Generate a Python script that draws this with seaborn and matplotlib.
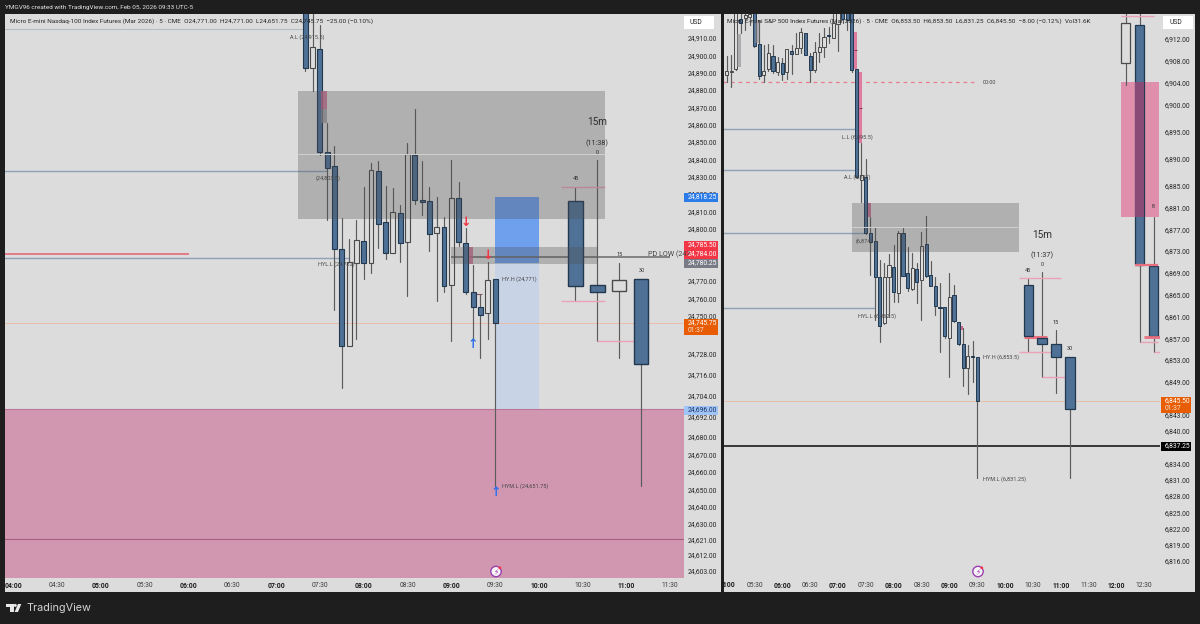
#!/usr/bin/env python3
"""
Two TradingView style futures panels (5 min candles, 15m recap, zones).
"""

from __future__ import annotations

import matplotlib

matplotlib.use("Agg")
import matplotlib.pyplot as plt
import pandas as pd
import seaborn as sns
from matplotlib.patches import Circle, Polygon, Rectangle

# Nasdaq panel, 5 min bars
nq_times = ["07:20", "07:25", "07:30", "07:35", "07:40", "07:45", "07:50", "07:55", "08:00",
            "08:05", "08:10", "08:15", "08:20", "08:25", "08:30", "08:35", "08:40", "08:45",
            "08:50", "08:55", "09:00", "09:05", "09:10", "09:15", "09:20", "09:25", "09:30"]
nq_kind = list("bwbbbbwwbwbbwbwbbbwbwbbbbwb")
nq_top = [24929.0, 24905.0, 24903.7, 24844.1, 24836.2, 24788.2, 24780.9, 24793.6, 24793.0,
          24833.9, 24833.5, 24803.9, 24809.7, 24809.3, 24843.1, 24842.6, 24816.6, 24816.0,
          24800.9, 24801.2, 24817.6, 24817.6, 24791.7, 24763.8, 24755.1, 24770.5, 24771.0]
nq_bot = [24892.9, 24892.5, 24844.5, 24835.0, 24788.6, 24732.6, 24732.5, 24780.5, 24780.1,
          24780.1, 24802.8, 24786.2, 24786.2, 24792.0, 24792.2, 24816.6, 24815.3, 24797.2,
          24797.8, 24767.2, 24767.5, 24792.4, 24763.8, 24755.1, 24750.5, 24751.7, 24745.75]
nq_high = [24932.0, 24929.0, 24917.5, 24861.0, 24847.7, 24806.0, 24794.0, 24805.0, 24824.3,
           24837.8, 24839.3, 24824.9, 24823.4, 24813.7, 24849.3, 24868.9, 24839.3, 24824.3,
           24818.5, 24807.0, 24839.7, 24826.8, 24800.3, 24779.2, 24762.3, 24781.0, 24771.0]
nq_low = [24891.2, 24879.6, 24842.6, 24805.0, 24753.2, 24708.0, 24732.5, 24736.3, 24770.9,
          24774.4, 24788.8, 24782.4, 24786.2, 24781.0, 24761.5, 24814.3, 24808.0, 24787.4,
          24758.6, 24763.8, 24735.5, 24790.3, 24762.3, 24736.3, 24725.4, 24736.3, 24651.75]

# Nasdaq panel, 15m recap
nq15_times = ["10:25", "10:40", "10:55", "11:10"]
nq15_kind = list("bbwb")
nq15_top = [24816.0, 24767.6, 24770.5, 24771.0]
nq15_bot = [24767.2, 24763.8, 24764.0, 24722.0]
nq15_high = [24824.3, 24839.7, 24780.5, 24771.0]
nq15_low = [24758.4, 24735.5, 24725.6, 24651.75]

nq_ticks = [24910, 24900, 24890, 24880, 24870, 24860, 24850, 24840, 24830, 24820, 24810, 24800,
            24770, 24760, 24750, 24728, 24716, 24704, 24692, 24680, 24670, 24660, 24650, 24640,
            24630, 24621, 24612, 24603]
nq_time_ticks = ["04:00", "04:30", "05:00", "05:30", "06:00", "06:30", "07:00", "07:30",
                 "08:00", "08:30", "09:00", "09:30", "10:00", "10:30", "11:00", "11:30"]

# S&P panel, 5 min bars
es_times = ["05:00", "05:05", "05:10", "05:15", "05:20", "05:25", "05:30", "05:35", "05:40",
            "05:45", "05:50", "05:55", "06:00", "06:05", "06:10", "06:15", "06:20", "06:25",
            "06:30", "06:35", "06:40", "06:45", "06:50", "06:55", "07:00", "07:05", "07:10",
            "07:15", "07:20", "07:25", "07:30", "07:35", "07:40", "07:45", "07:50", "07:55",
            "08:00", "08:05", "08:10", "08:15", "08:20", "08:25", "08:30", "08:35", "08:40",
            "08:45", "08:50", "08:55", "09:00", "09:05", "09:10", "09:15", "09:20", "09:25",
            "09:30"]
es_kind = list("wwwbwwbbwwbwbwbwwbbwwwbwwbbbbwbbbbwwbwbbwbwbbbbbwbbbwbb")
es_top = [6906.06, 6906.17, 6917.3, 6915.62, 6916.41, 6916.6, 6918.6, 6911.03, 6906.06,
          6909.37, 6908.88, 6907.83, 6907.64, 6910.11, 6909.79, 6910.4, 6913.34, 6913.05,
          6908.88, 6909.67, 6910.58, 6912.31, 6912.74, 6914.89, 6917.33, 6917.33, 6917.33,
          6917.7, 6906.43, 6887.0, 6886.58, 6876.29, 6874.93, 6868.2, 6868.2, 6870.46,
          6870.15, 6876.29, 6876.29, 6868.94, 6869.96, 6869.73, 6874.0, 6874.27, 6868.62,
          6866.66, 6862.69, 6862.69, 6864.63, 6864.95, 6860.04, 6855.94, 6853.79, 6853.79,
          6853.5]
es_bot = [6905.33, 6905.93, 6906.43, 6914.89, 6915.86, 6916.0, 6910.77, 6905.2, 6905.33,
          6906.43, 6906.06, 6905.99, 6905.57, 6905.93, 6909.3, 6909.3, 6910.4, 6909.11,
          6906.3, 6906.3, 6909.61, 6910.58, 6912.55, 6912.24, 6914.76, 6915.62, 6915.49,
          6906.3, 6886.58, 6886.08, 6876.29, 6874.74, 6868.31, 6859.3, 6859.75, 6868.2,
          6865.44, 6865.26, 6868.44, 6866.18, 6866.05, 6867.39, 6867.7, 6868.44, 6866.66,
          6862.98, 6862.5, 6857.41, 6857.0, 6860.22, 6855.94, 6851.47, 6851.47, 6853.5,
          6845.5]
es_high = [6908.88, 6909.06, 6918.2, 6917.3, 6917.3, 6917.7, 6919.2, 6915.49, 6910.9,
           6911.08, 6910.9, 6908.75, 6908.45, 6910.11, 6910.9, 6913.05, 6913.97, 6913.05,
           6909.43, 6911.5, 6913.05, 6913.97, 6914.26, 6916.6, 6918.2, 6918.2, 6918.2,
           6918.2, 6906.43, 6892.94, 6889.89, 6879.34, 6877.5, 6871.38, 6870.77, 6872.48,
           6874.14, 6876.77, 6877.21, 6873.83, 6872.6, 6870.88, 6876.58, 6879.47, 6871.25,
           6868.2, 6867.15, 6862.69, 6868.94, 6866.79, 6860.04, 6858.83, 6855.76, 6856.55,
           6853.5]
es_low = [6904.15, 6903.23, 6906.3, 6913.05, 6913.65, 6914.57, 6910.47, 6904.7, 6904.15,
          6906.17, 6905.7, 6905.33, 6904.46, 6904.7, 6905.57, 6909.3, 6909.37, 6909.11,
          6904.15, 6905.93, 6907.83, 6908.75, 6911.21, 6912.24, 6909.85, 6914.94, 6913.65,
          6906.0, 6886.45, 6882.1, 6876.16, 6868.62, 6860.35, 6856.36, 6859.62, 6860.96,
          6863.72, 6863.72, 6868.44, 6865.74, 6865.87, 6863.42, 6860.35, 6868.2, 6866.66,
          6861.27, 6854.53, 6857.04, 6849.93, 6860.04, 6855.76, 6848.22, 6846.75, 6849.01,
          6831.25]

# S&P panel, 15m recap and the wider bars on the far right
es15_times = ["10:25", "10:40", "10:55", "11:10", "12:10", "12:25", "12:40"]
es15_kind = list("bbbbwbb")
es15_top = [6866.73, 6857.0, 6855.94, 6853.5, 6914.89, 6914.57, 6870.28]
es15_bot = [6857.41, 6855.94, 6853.5, 6843.94, 6907.64, 6870.46, 6857.41]
es15_high = [6868.0, 6869.23, 6858.5, 6853.5, 6918.2, 6918.2, 6879.34]
es15_low = [6854.53, 6849.93, 6846.88, 6831.25, 6903.55, 6856.36, 6854.53]

es_ticks = [6912, 6908, 6904, 6900, 6895, 6890, 6885, 6881, 6877, 6873, 6869, 6865, 6861, 6857,
            6853, 6849, 6843, 6840, 6834, 6831, 6828, 6825, 6822, 6819, 6816]
es_time_ticks = ["05:30", "06:00", "06:30", "07:00", "07:30", "08:00", "08:30", "09:00", "09:30",
                 "10:00", "10:30", "11:00", "11:30", "12:00", "12:30"]

NQ_LAST = 24745.75
ES_LAST = 6845.5
ES_BLACK = 6837.25

BG = "#dcdcdc"
DARK = "#1e1e1e"
BLUE = "#4f7196"
EDGE = "#22384e"
WICK = "#5c5c5c"
PINK = "#e8a3b4"
LEVEL = "#8ea1b6"
FS = 4.9
FS_HEAD = 4.55


def to_min(t: str) -> int:
    h, m = t.split(":")
    return int(h) * 60 + int(m)


def draw_candles(ax, times, kinds, tops, bots, highs, lows, width, edge_w=0.8):
    x = [to_min(t) for t in times]
    rows = []
    for i, xi in enumerate(x):
        rows.append({"x": xi, "p": highs[i], "seg": f"{i}u"})
        rows.append({"x": xi, "p": tops[i], "seg": f"{i}u"})
        rows.append({"x": xi, "p": bots[i], "seg": f"{i}d"})
        rows.append({"x": xi, "p": lows[i], "seg": f"{i}d"})
    wicks = pd.DataFrame(rows)
    sns.lineplot(data=wicks, x="x", y="p", units="seg", estimator=None, sort=False,
                 color=WICK, lw=0.85, legend=False, ax=ax, zorder=3)
    for i, xi in enumerate(x):
        if kinds[i] == "b":
            fc, ec = BLUE, EDGE
        else:
            fc, ec = "none", "#4a4a4a"
        ax.bar(xi, tops[i] - bots[i], bottom=bots[i], width=width, facecolor=fc, edgecolor=ec,
               linewidth=edge_w, zorder=4)


def box(ax, t0, t1, p0, p1, color, alpha=1.0, z=1):
    ax.add_patch(Rectangle((t0, p0), t1 - t0, p1 - p0, facecolor=color, edgecolor="none",
                           alpha=alpha, zorder=z))


def setup_axis(ax, xlim, ylim, ticks, time_ticks, pad):
    ax.set_xlim(*xlim)
    ax.set_ylim(*ylim)
    ax.set_facecolor(BG)
    ax.set_xlabel("")
    ax.set_ylabel("")
    ax.yaxis.tick_right()
    ax.set_yticks(ticks)
    ax.set_yticklabels([f"{v:,.2f}" for v in ticks], fontsize=FS, color="#262626")
    ax.set_xticks([to_min(t) for t in time_ticks])
    ax.set_xticklabels(time_ticks, fontsize=FS, color="#3c3c3c")
    for lab, t in zip(ax.get_xticklabels(), time_ticks):
        if t.endswith(":00"):
            lab.set_fontweight("bold")
            lab.set_color("#1a1a1a")
    ax.tick_params(axis="y", length=0, pad=pad)
    ax.tick_params(axis="x", length=0, pad=2.6)
    for s in ax.spines.values():
        s.set_visible(False)


def main() -> None:
    sns.set_theme(style="white")
    plt.rcParams["font.family"] = ["Roboto", "DejaVu Sans"]

    fig = plt.figure(figsize=(12, 6.24), dpi=100, facecolor=DARK)

    # pixel helper layers, behind and above the two charts
    back = fig.add_axes([0, 0, 1, 1], zorder=-1)
    over = fig.add_axes([0, 0, 1, 1], zorder=5)
    for a in (back, over):
        a.set_xlim(0, 1200)
        a.set_ylim(624, 0)
        a.axis("off")
    back.add_patch(Rectangle((5, 14), 716, 578, facecolor=BG, edgecolor="none"))
    back.add_patch(Rectangle((724, 14), 471, 578, facecolor=BG, edgecolor="none"))

    ax1 = fig.add_axes([5 / 1200, 1 - 578 / 624, 679 / 1200, 564 / 624], zorder=1)
    ax2 = fig.add_axes([724 / 1200, 1 - 578 / 624, 436 / 1200, 564 / 624], zorder=1)

    # ---- left panel
    box(ax1, 200, 720, 24500, 24696, "#d197b0")
    ax1.hlines(24696, 200, 720, color="#b9769a", lw=0.8, zorder=2)
    ax1.hlines(24621.5, 200, 720, color="#a5607f", lw=0.8, zorder=2)
    box(ax1, 570, 600, 24696, 24780.25, "#c8d4e6")
    box(ax1, 570, 600, 24780.25, 24818.25, "#6fa0ee")
    ax1.hlines(24833.3, 200, 455, color=LEVEL, lw=1.0, zorder=2)
    ax1.hlines(24915.2, 200, 440, color="#b4bcc6", lw=0.8, zorder=2)
    ax1.hlines(24783.2, 200, 470, color=LEVEL, lw=1.0, zorder=2)
    ax1.hlines(24785.5, 200, 360, color="#e4606f", lw=1.1, zorder=2)
    ax1.hlines(NQ_LAST, 200, 720, color="#e9bda8", lw=0.7, zorder=2)
    ax1.hlines(24784, 540, 690, color="#6a6a6a", lw=1.1, zorder=2)
    draw_candles(ax1, nq_times, nq_kind, nq_top, nq_bot, nq_high, nq_low, 3.4)
    draw_candles(ax1, nq15_times, nq15_kind, nq15_top, nq15_bot, nq15_high, nq15_low, 10.0, 1.0)
    ax1.hlines([24824.3, 24758.4], 615, 645, color=PINK, lw=1.0, zorder=3)
    ax1.hlines(24735.5, 640, 670, color=PINK, lw=1.0, zorder=3)
    ax1.hlines(24762.3, 556, 561, color="#8a5468", lw=0.8, zorder=3)
    box(ax1, 451, 455, 24869, 24879.4, "#c9688f", 0.8, 5)
    box(ax1, 451, 455, 24861, 24869, "#8f8f94", 0.7, 5)
    box(ax1, 552, 555, 24779.7, 24789.7, "#c9688f", 0.8, 5)
    box(ax1, 435, 645, 24805.6, 24879.4, "#4d4d50", 0.3, 6)
    box(ax1, 540, 640, 24779.7, 24789.7, "#4d4d50", 0.3, 6)
    ax1.hlines(24843.1, 435, 645, color="#d2d2d2", lw=0.7, zorder=6)
    setup_axis(ax1, (234.3, 699.4), (24598.8, 24923.8), nq_ticks, nq_time_ticks, 2.9)

    # ---- right panel
    box(ax2, 725.3, 765.6, 6879.34, 6904.15, "#df8fab")
    ax2.hlines(6904.1, 280, 567, color="#e57f90", lw=0.9, ls=(0, (3, 3)), zorder=2)
    ax2.hlines(6895.46, 280, 440, color=LEVEL, lw=1.0, zorder=2)
    ax2.hlines(6887.9, 280, 440, color=LEVEL, lw=1.0, zorder=2)
    ax2.hlines(6876.3, 280, 450, color=LEVEL, lw=1.0, zorder=2)
    ax2.hlines(6862.5, 280, 460, color=LEVEL, lw=1.0, zorder=2)
    ax2.hlines(ES_BLACK, 280, 780, color="#2a2a2a", lw=1.3, zorder=2)
    ax2.hlines(ES_LAST, 280, 780, color="#e9bda8", lw=0.7, zorder=2)
    draw_candles(ax2, es_times, es_kind, es_top, es_bot, es_high, es_low, 3.4, 0.7)
    draw_candles(ax2, es15_times, es15_kind, es15_top, es15_bot, es15_high, es15_low, 10.0, 0.9)
    box(ax2, to_min("12:25") - 5, to_min("12:25") + 5, 6879.34, 6904.15, "#8a4a78", 1.0, 5)
    ax2.hlines(6868.0, 615, 660, color=PINK, lw=1.0, zorder=3)
    ax2.hlines(6854.53, 615, 655, color=PINK, lw=1.0, zorder=3)
    ax2.hlines(6849.93, 640, 670, color=PINK, lw=1.0, zorder=3)
    ax2.hlines(6857.3, 620, 645, color="#e8707f", lw=2.2, zorder=3)
    ax2.hlines(6916.2, 725, 760, color=PINK, lw=1.0, zorder=3)
    ax2.hlines(6870.46, 740, 765, color="#e8707f", lw=1.6, zorder=5)
    ax2.hlines(6857.2, 750, 767, color="#e8707f", lw=2.0, zorder=5)
    ax2.hlines(6856.36, 745, 765, color=PINK, lw=1.0, zorder=3)
    ax2.hlines(6854.53, 760, 767, color=PINK, lw=1.0, zorder=3)
    box(ax2, 437.2, 440.8, 6906.4, 6913.3, "#df7ba0", 1.0, 2)
    box(ax2, 442.6, 446.2, 6892.9, 6906.0, "#df7ba0", 1.0, 2)
    ax2.hlines(6909.9, 437.2, 440.8, color="#7a3a55", lw=0.7, zorder=5)
    ax2.hlines(6899.4, 442.6, 446.2, color="#7a3a55", lw=0.7, zorder=5)
    box(ax2, 452.3, 455.5, 6879.3, 6881.9, "#c9688f", 0.9, 5)
    box(ax2, 552.5, 555, 6858.5, 6859.2, "#c9688f", 1.0, 5)
    box(ax2, 311, 315.3, 6906.8, 6913, "#8f8f94", 0.6, 5)
    box(ax2, 331, 335, 6911.3, 6915.5, "#8f8f94", 0.6, 5)
    box(ax2, 435, 615, 6872.9, 6881.9, "#4d4d50", 0.3, 6)
    ax2.hlines(6877.4, 435, 615, color="#d2d2d2", lw=0.7, zorder=6)
    setup_axis(ax2, (297.2, 767), (6812.9, 6916.6), es_ticks, es_time_ticks, 3.6)

    # ---- header and footer text
    over.text(5, 7, "YMGV96 created with TradingView.com, Feb 05, 2026 09:33 UTC-5", fontsize=FS_HEAD,
              color="#e6e6e6", va="center")
    over.text(10, 21, "Micro E-mini Nasdaq-100 Index Futures (Mar 2026) · 5 · CME  O24,771.00  "
              "H24,771.00  L24,651.75  C24,745.75  −25.00 (−0.10%)", fontsize=FS_HEAD,
              color="#262626", va="center")
    over.text(727, 21, "Micro E-mini S&P 500 Index Futures (Mar 2026) · 5 · CME  O6,853.50  "
              "H6,853.50  L6,831.25  C6,845.50  −8.00 (−0.12%)  Vol31.6K", fontsize=FS_HEAD,
              color="#262626", va="center")
    over.text(729, 585, "5:00", fontsize=FS, weight="bold", color="#1a1a1a", ha="center", va="center")
    over.text(26, 608, "TradingView", fontsize=7.8, color="#d4d4d4", va="center", family="Inter")
    over.add_patch(Polygon([(6, 604), (13.5, 604), (13.5, 612), (10, 612), (10, 607), (6, 607)],
                           facecolor="#e8e8e8", edgecolor="none"))
    over.add_patch(Circle((15.3, 605.4), 1.5, facecolor="#e8e8e8", edgecolor="none"))
    over.add_patch(Polygon([(18, 604), (21.3, 604), (18, 612), (14.6, 612)],
                           facecolor="#e8e8e8", edgecolor="none"))

    # ---- small chart notes
    notes = [
        (290, 37, "A.L (24,915.5)", 4.0), (316, 178, "(24,803.5)", 4.0),
        (318, 264, "HYL.L (24,782)", 4.0), (502, 279, "HY.H (24,771)", 4.0),
        (502, 486, "HYM.L (24,651.75)", 4.0), (842, 137, "L.L (6,895.5)", 4.0),
        (844, 177, "A.L (6,887)", 4.0), (856, 241, "(6,874)", 4.0),
        (858, 316, "HYL.L (6,862.5)", 4.0), (983, 357, "HY.H (6,853.5)", 4.0),
        (983, 479, "HYM.L (6,831.25)", 4.0), (983, 82, "00:00", 4.0),
        (648, 254, "PD LOW (247", 5.2),
    ]
    for px, py, s, size in notes:
        over.text(px, py, s, fontsize=size, color="#454545", va="center")
    centered = [
        (597, 122, "15m", 7.2), (597, 143, "(11:38)", 5.2), (597, 152, "0", 4.0),
        (575.5, 178, "45", 4.0), (619.7, 255, "15", 4.0), (641.5, 271, "30", 4.0),
        (1042, 235, "15m", 7.2), (1042, 255, "(11:37)", 5.2), (1042, 265, "0", 4.0),
        (1028, 270, "45", 4.0), (1056, 322, "15", 4.0), (1070, 349, "30", 4.0),
        (1153, 207, "8", 4.0),
    ]
    for px, py, s, size in centered:
        over.text(px, py, s, fontsize=size, color="#2e2e2e", ha="center", va="center")

    for px, py, s, c in [(465.7, 222.5, "↓", "#f23645"), (488.3, 255.5, "↓", "#f23645"),
                         (472.7, 345, "↑", "#2f6fe8"), (495.5, 493, "↑", "#2f6fe8")]:
        over.text(px, py, s, fontsize=9, color=c, weight="bold", ha="center", va="center",
                  family="DejaVu Sans")
    for px in (496, 978):
        over.add_patch(Circle((px, 571.5), 5.2, facecolor="#f7f4f8", edgecolor="#9a3fb0", lw=1.0))
        over.text(px, 571.5, "⚡", fontsize=5.5, color="#a23ab8", ha="center", va="center",
                  family="DejaVu Sans")
        over.add_patch(Circle((px + 3.8, 567.8), 1.4, facecolor="#f23645", edgecolor="none"))

    # ---- price tags
    tags = [
        (684, 197, 34, "24,818.25", "#2b7be8", "white"), (684, 245, 34, "24,785.50", "#f23645", "white"),
        (684, 254, 34, "24,784.00", "#f23645", "white"), (684, 263, 34, "24,780.25", "#787b86", "white"),
        (684, 410, 34, "24,696.00", "#9fc5f8", "#1f3560"), (1161, 446, 30, "6,837.25", "black", "white"),
    ]
    for px, py, w, s, fc, tc in tags:
        over.add_patch(Rectangle((px, py - 4.5), w, 9, facecolor=fc, edgecolor="none"))
        over.text(px + 4, py, s, fontsize=FS, color=tc, va="center")
    for px, py, w, s1 in [(684, 323, 34, "24,745.75"), (1161, 401, 30, "6,845.50")]:
        over.add_patch(Rectangle((px, py - 4.5), w, 16.5, facecolor="#e85d04", edgecolor="none"))
        over.text(px + 4, py, s1, fontsize=FS, color="white", va="center")
        over.text(px + 4, py + 7.7, "01:37", fontsize=FS, color="#f5e3d5", va="center")
    for px in (684, 1163):
        over.add_patch(Rectangle((px, 16), 30, 13, facecolor="white", edgecolor="none"))
        over.text(px + 6, 22.5, "USD", fontsize=FS, color="#262626", va="center")

    fig.savefig("out.png", dpi=100, facecolor=DARK)
    plt.close(fig)


if __name__ == "__main__":
    main()
